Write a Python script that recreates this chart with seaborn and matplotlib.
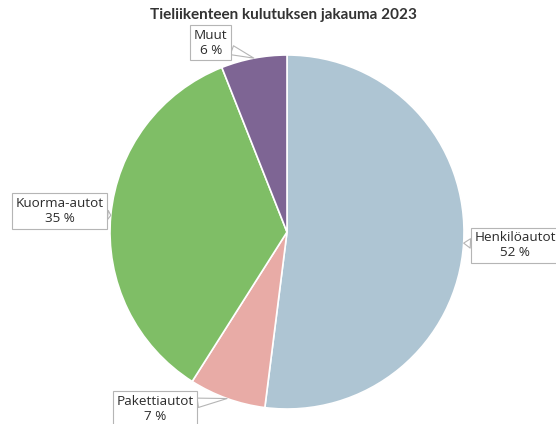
import matplotlib.pyplot as plt
import seaborn as sns
import numpy as np

# Tieliikenteen kulutuksen jakauma 2023
categories = ['Henkilöautot', 'Pakettiautot', 'Kuorma-autot', 'Muut']
shares = [52, 7, 35, 6]
colors = ['#aec5d3', '#e8aba6', '#7fbe66', '#7e6594']

# tekstilaatikoiden paikat (data-koordinaatit, piirakan säde = 1)
label_pos = [(1.29, -0.075), (-0.746, -1.0), (-1.285, 0.12), (-0.43, 1.07)]

sns.set_theme(style='white')
plt.rcParams['font.family'] = ['Open Sans', 'DejaVu Sans']

fig = plt.figure(figsize=(5.56, 4.24), dpi=100)
cx, cy, r = 287, 232, 177
ax = fig.add_axes([(cx - r) / 556, (424 - cy - r) / 424, 2 * r / 556, 2 * r / 424])

wedges, _ = ax.pie(shares, colors=colors, startangle=90, counterclock=False,
                   radius=1, wedgeprops=dict(edgecolor='white', linewidth=1.2))
ax.set_xlim(-1, 1)
ax.set_ylim(-1, 1)
ax.set_aspect('equal')
ax.axis('off')

for w, name, val, pos in zip(wedges, categories, shares, label_pos):
    ang = np.deg2rad((w.theta1 + w.theta2) / 2)
    anchor = (np.cos(ang), np.sin(ang))
    ax.annotate(f'{name}\n{val} %', xy=anchor, xytext=pos,
                ha='center', va='center', fontsize=9.7, color='#2b2b2b',
                linespacing=1.2, annotation_clip=False,
                bbox=dict(boxstyle='square,pad=0.28', fc='white', ec='#b5b5b5', lw=0.8),
                arrowprops=dict(arrowstyle='wedge,tail_width=0.7,shrink_factor=0.5',
                                fc='white', ec='#b5b5b5', lw=0.8,
                                shrinkA=0, shrinkB=0))

fig.text(283 / 556, 1 - 15 / 424, 'Tieliikenteen kulutuksen jakauma 2023',
         ha='center', va='center', fontsize=11, fontweight='bold', color='#333333',
         family=['Lato', 'DejaVu Sans'])

fig.savefig('out.png', dpi=100)
